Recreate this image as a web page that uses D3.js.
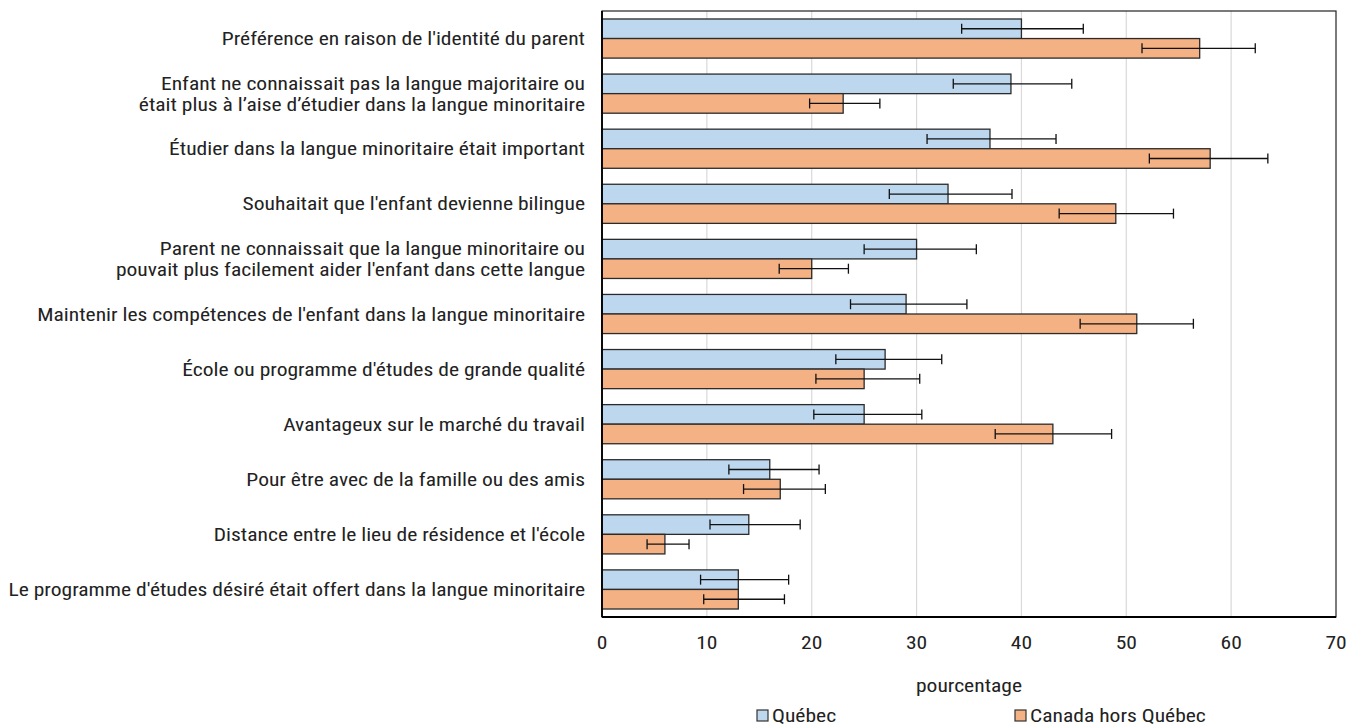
<!DOCTYPE html>
<html>
<head>
<meta charset="utf-8">
<script src="https://cdn.jsdelivr.net/npm/d3@7"></script>
<style>
  html, body { margin: 0; padding: 0; background: #fff; }
  svg text { font-family: "Roboto Condensed", Roboto, "Liberation Sans", sans-serif; fill: #222; }
</style>
</head>
<body>
<svg id="chart" width="1357" height="727"></svg>
<script>
// Reasons for choosing a minority-language school (lines split with "\n")
const categories = [
  "Préférence en raison de l'identité du parent",
  "Enfant ne connaissait pas la langue majoritaire ou\nétait plus à l’aise d’étudier dans la langue minoritaire",
  "Étudier dans la langue minoritaire était important",
  "Souhaitait que l'enfant devienne bilingue",
  "Parent ne connaissait que la langue minoritaire ou\npouvait plus facilement aider l'enfant dans cette langue",
  "Maintenir les compétences de l'enfant dans la langue minoritaire",
  "École ou programme d'études de grande qualité",
  "Avantageux sur le marché du travail",
  "Pour être avec de la famille ou des amis",
  "Distance entre le lieu de résidence et l'école",
  "Le programme d'études désiré était offert dans la langue minoritaire"
];

const seriesNames = ["Québec", "Canada hors Québec"];

// Percentages
const quebec = [40, 39, 37, 33, 30, 29, 27, 25, 16, 14, 13];
const horsQuebec = [57, 23, 58, 49, 20, 51, 25, 43, 17, 6, 13];

// Confidence interval bounds (lower, upper)
const quebecLow  = [34.3, 33.5, 31.0, 27.4, 25.0, 23.7, 22.3, 20.2, 12.1, 10.3, 9.4];
const quebecHigh = [45.9, 44.8, 43.3, 39.1, 35.7, 34.8, 32.4, 30.5, 20.7, 18.9, 17.8];
const horsLow    = [51.5, 19.8, 52.2, 43.6, 16.9, 45.6, 20.4, 37.5, 13.5, 4.3, 9.7];
const horsHigh   = [62.3, 26.5, 63.5, 54.5, 23.5, 56.4, 30.3, 48.6, 21.3, 8.3, 17.4];

const xTicks = [0, 10, 20, 30, 40, 50, 60, 70];
const xTitle = "pourcentage";

const colors = ["#bdd7ee", "#f4b183"];

const svg = d3.select("#chart");
const W = 1357, H = 727;
const margin = { left: 602, right: 21, top: 11, bottom: 110 };
const x0 = margin.left, x1 = W - margin.right;
const y0 = margin.top, y1 = H - margin.bottom;

const x = d3.scaleLinear().domain([0, 70]).range([x0, x1]);
const y = d3.scaleBand().domain(d3.range(categories.length)).range([y0, y1])
  .paddingInner(0.29).paddingOuter(0.145);
const ySub = d3.scaleBand().domain([0, 1]).range([0, y.bandwidth()]);

const fontSize = 19;
const lineH = 21;
const labelGap = 17;
const longestLabelWidth = 577;

// narrow the typeface: measure the widest label line and squeeze horizontally
const probe = svg.append("text").attr("font-size", fontSize)
  .text(d3.greatest(categories.flatMap(c => c.split("\n")), s => s.length));
const kx = longestLabelWidth / probe.node().getComputedTextLength();
probe.remove();

function place(sel, px, py) {
  sel.attr("transform", (d, i) => `translate(${typeof px === "function" ? px(d, i) : px},${typeof py === "function" ? py(d, i) : py}) scale(${kx},1)`);
}

// vertical gridlines
svg.append("g").selectAll("line")
  .data(xTicks.filter(t => t > 0 && t < 70))
  .join("line")
  .attr("x1", d => x(d)).attr("x2", d => x(d))
  .attr("y1", y0).attr("y2", y1)
  .attr("stroke", "#d9d9d9").attr("stroke-width", 1.2);

// plot frame
svg.append("rect")
  .attr("x", x0).attr("y", y0)
  .attr("width", x1 - x0).attr("height", y1 - y0)
  .attr("fill", "none").attr("stroke", "#222").attr("stroke-width", 1.2);

const rows = categories.map((c, i) => ({
  i,
  vals: [
    { s: 0, v: quebec[i], lo: quebecLow[i], hi: quebecHigh[i] },
    { s: 1, v: horsQuebec[i], lo: horsLow[i], hi: horsHigh[i] }
  ]
}));

const groups = svg.append("g").selectAll("g")
  .data(rows).join("g")
  .attr("transform", d => `translate(0,${y(d.i)})`);

groups.selectAll("rect")
  .data(d => d.vals).join("rect")
  .attr("x", x(0))
  .attr("y", d => ySub(d.s))
  .attr("width", d => x(d.v) - x(0))
  .attr("height", ySub.bandwidth())
  .attr("fill", d => colors[d.s])
  .attr("stroke", "#2b2b2b").attr("stroke-width", 1.3);

// error bars
const eb = groups.selectAll("g.err")
  .data(d => d.vals).join("g").attr("class", "err")
  .attr("transform", d => `translate(0,${ySub(d.s) + ySub.bandwidth() / 2})`);
eb.append("line")
  .attr("x1", d => x(d.lo)).attr("x2", d => x(d.hi))
  .attr("stroke", "#111").attr("stroke-width", 1.3);
eb.append("line")
  .attr("x1", d => x(d.lo)).attr("x2", d => x(d.lo))
  .attr("y1", -5).attr("y2", 5)
  .attr("stroke", "#111").attr("stroke-width", 1.3);
eb.append("line")
  .attr("x1", d => x(d.hi)).attr("x2", d => x(d.hi))
  .attr("y1", -5).attr("y2", 5)
  .attr("stroke", "#111").attr("stroke-width", 1.3);

// axis lines
svg.append("line")
  .attr("x1", x0).attr("x2", x0).attr("y1", y0).attr("y2", y1)
  .attr("stroke", "#000").attr("stroke-width", 1.8);
svg.append("line")
  .attr("x1", x0).attr("x2", x1).attr("y1", y1).attr("y2", y1)
  .attr("stroke", "#000").attr("stroke-width", 1.8);

// category labels
const lab = svg.append("g").selectAll("text")
  .data(categories).join("text")
  .attr("text-anchor", "end")
  .attr("font-size", fontSize);
place(lab, x0 - labelGap, (d, i) => y(i) + y.bandwidth() / 2);
lab.each(function(d) {
  const lines = d.split("\n");
  const t = d3.select(this);
  lines.forEach((ln, k) => {
    t.append("tspan")
      .attr("x", 0)
      .attr("dy", k === 0 ? ((-(lines.length - 1) / 2) * lineH + 6.5) : lineH)
      .text(ln);
  });
});

// x axis tick labels
const gx = svg.append("g").selectAll("text")
  .data(xTicks).join("text")
  .attr("text-anchor", "middle")
  .attr("font-size", fontSize)
  .text(d => d);
place(gx, d => x(d), y1 + 32);

const title = svg.append("text")
  .datum(xTitle)
  .attr("text-anchor", "middle").attr("font-size", fontSize)
  .text(xTitle);
place(title, (x0 + x1) / 2, 692);

// legend
const legendX = [757, 1015];
const leg = svg.append("g").selectAll("g")
  .data(seriesNames).join("g")
  .attr("transform", (d, i) => `translate(${legendX[i]},710)`);
leg.append("rect")
  .attr("width", 11).attr("height", 11)
  .attr("fill", (d, i) => colors[i])
  .attr("stroke", "#333").attr("stroke-width", 1.2);
const legText = leg.append("text")
  .attr("font-size", fontSize)
  .text(d => d);
place(legText, 15, 11.5);
</script>
</body>
</html>
